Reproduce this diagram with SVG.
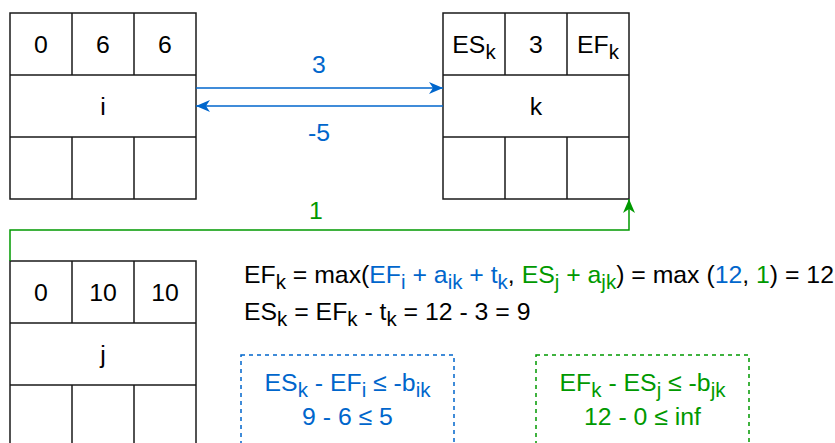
<svg xmlns="http://www.w3.org/2000/svg" width="835" height="443" viewBox="0 0 835 443">
<defs>
<style>
.cell{fill:#fff;stroke:#1a1a1a;stroke-width:1.5}
.ln{stroke:#1a1a1a;stroke-width:1.5;fill:none}
text{font-family:"Liberation Sans",Arial,Helvetica,sans-serif;font-size:24.8px;fill:#000}
.c{text-anchor:middle}
.blue{fill:#0066CC}
.green{fill:#009900}
.sub{font-size:20.5px}
.conB{stroke:#0066CC;stroke-width:1.5;fill:none}
.conG{stroke:#009900;stroke-width:1.5;fill:none}
</style>
<marker id="aB" markerUnits="userSpaceOnUse" markerWidth="15" markerHeight="13" refX="14" refY="6" orient="auto" viewBox="0 0 15 13">
<path d="M0,0 L14,6 L0,12 L4,6 z" fill="#0066CC"/>
</marker>
<marker id="aG" markerUnits="userSpaceOnUse" markerWidth="15" markerHeight="13" refX="14" refY="6" orient="auto" viewBox="0 0 15 13">
<path d="M0,0 L14,6 L0,12 L4,6 z" fill="#009900"/>
</marker>
</defs>
<rect width="835" height="443" fill="#fff"/>

<g id="node-i">
<rect class="cell" x="10" y="13" width="186" height="186"/>
<path class="ln" d="M10 75H196M10 137H196M72 13V75M134 13V75M72 137V199M134 137V199"/>
<text class="c" x="41" y="53">0</text>
<text class="c" x="103" y="53">6</text>
<text class="c" x="165" y="53">6</text>
<text class="c" x="103" y="115">i</text>
</g>

<g id="node-k">
<rect class="cell" x="443" y="13" width="186" height="186"/>
<path class="ln" d="M443 75H629M443 137H629M505 13V75M567 13V75M505 137V199M567 137V199"/>
<text class="c" x="474" y="53">ES<tspan class="sub" dy="6">k</tspan></text>
<text class="c" x="536" y="53">3</text>
<text class="c" x="598" y="53">EF<tspan class="sub" dy="6">k</tspan></text>
<text class="c" x="536" y="115">k</text>
</g>

<g id="node-j">
<rect class="cell" x="10" y="261" width="186" height="186"/>
<path class="ln" d="M10 323H196M10 385H196M72 261V323M134 261V323M72 385V447M134 385V447"/>
<text class="c" x="41" y="301">0</text>
<text class="c" x="103" y="301">10</text>
<text class="c" x="165" y="301">10</text>
<text class="c" x="103" y="363">j</text>
</g>

<g id="connectors">
<path class="conB" d="M196 88H443" marker-end="url(#aB)"/>
<path class="conB" d="M443 106H196" marker-end="url(#aB)"/>
<path class="conG" d="M10 261V230H629V199" marker-end="url(#aG)"/>
<text class="c blue" x="319" y="73">3</text>
<text class="c blue" x="319" y="141">-5</text>
<text class="c green" x="316" y="219">1</text>
</g>

<g id="equations">
<text x="244" y="283">EF<tspan class="sub" dy="6">k</tspan><tspan dy="-6"> = max(</tspan><tspan class="blue">EF</tspan><tspan class="blue sub" dy="6">i</tspan><tspan class="blue" dy="-6"> + a</tspan><tspan class="blue sub" dy="6">ik</tspan><tspan class="blue" dy="-6"> + t</tspan><tspan class="blue sub" dy="6">k</tspan><tspan dy="-6">, </tspan><tspan class="green">ES</tspan><tspan class="green sub" dy="6">j</tspan><tspan class="green" dy="-6"> + a</tspan><tspan class="green sub" dy="6">jk</tspan><tspan dy="-6">) = max (</tspan><tspan class="blue">12</tspan><tspan>, </tspan><tspan class="green">1</tspan><tspan>) = 12</tspan></text>
<text x="244" y="320">ES<tspan class="sub" dy="6">k</tspan><tspan dy="-6"> = EF</tspan><tspan class="sub" dy="6">k</tspan><tspan dy="-6"> - t</tspan><tspan class="sub" dy="6">k</tspan><tspan dy="-6"> = 12 - 3 = 9</tspan></text>
</g>

<g id="box-blue">
<rect x="241" y="355" width="213" height="100" fill="none" stroke="#0066CC" stroke-width="1.5" stroke-dasharray="4 4"/>
<text class="c blue" x="347.5" y="391">ES<tspan class="sub" dy="6">k</tspan><tspan dy="-6"> - EF</tspan><tspan class="sub" dy="6">i</tspan><tspan dy="-6"> ≤ -b</tspan><tspan class="sub" dy="6">ik</tspan></text>
<text class="c blue" x="347.5" y="425">9 - 6 ≤ 5</text>
</g>

<g id="box-green">
<rect x="536" y="355" width="213" height="100" fill="none" stroke="#009900" stroke-width="1.5" stroke-dasharray="4 4"/>
<text class="c green" x="642.5" y="391">EF<tspan class="sub" dy="6">k</tspan><tspan dy="-6"> - ES</tspan><tspan class="sub" dy="6">j</tspan><tspan dy="-6"> ≤ -b</tspan><tspan class="sub" dy="6">jk</tspan></text>
<text class="c green" x="642.5" y="425">12 - 0 ≤ inf</text>
</g>
</svg>
